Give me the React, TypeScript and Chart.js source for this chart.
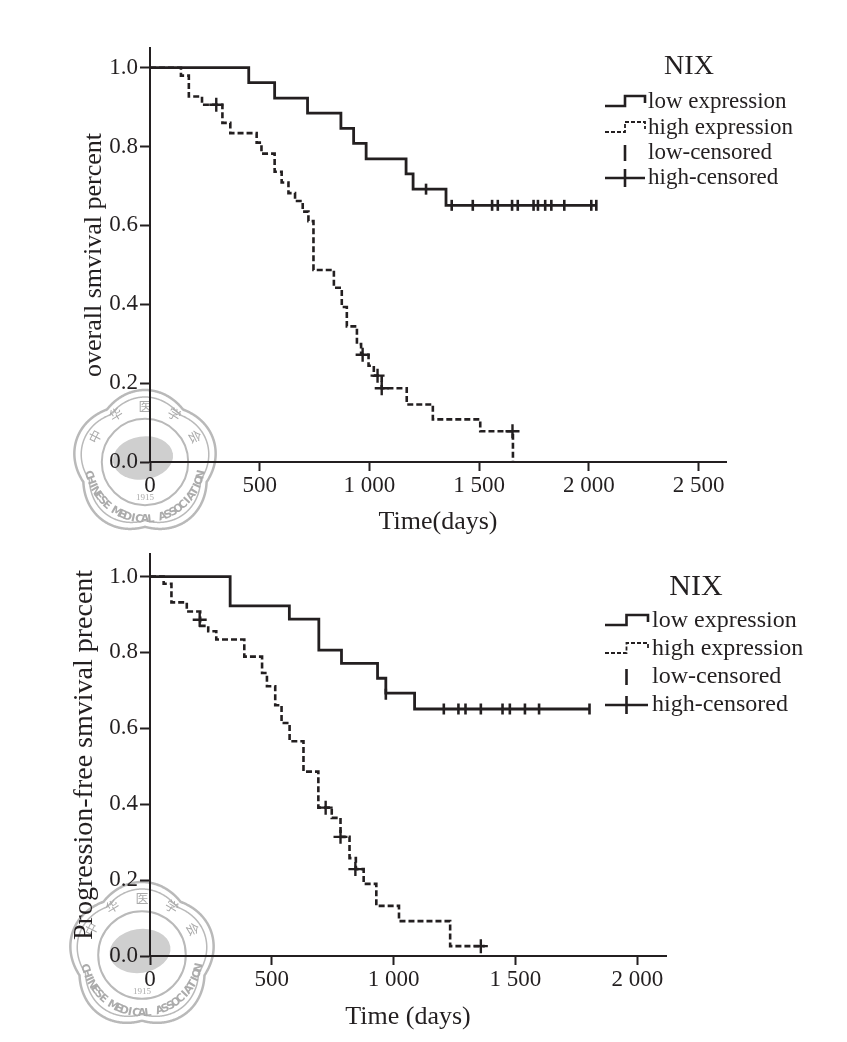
import React, { useEffect, useRef } from 'react';
import { Chart, registerables } from 'chart.js';

Chart.register(...registerables);

const INK = '#231f20';
const FONT = '"Liberation Serif", "Times New Roman", serif';

// ---------- Top panel: overall survival ----------
const osLowTimes = [0, 450, 568, 718, 870, 928, 985, 1167, 1199, 1349, 2034];
const osLowSurv = [1, 0.962, 0.923, 0.885, 0.846, 0.808, 0.769, 0.731, 0.692, 0.651, 0.651];
const osLowCensorTimes = [1258, 1375, 1471, 1559, 1585, 1650, 1676, 1748, 1768, 1801, 1829, 1888, 2011, 2034];
const osLowCensorSurv = [0.692, 0.651, 0.651, 0.651, 0.651, 0.651, 0.651, 0.651, 0.651, 0.651, 0.651, 0.651, 0.651, 0.651];
const osHighTimes = [0, 141, 177, 237, 330, 366, 486, 508, 568, 600, 631, 661, 696, 722, 745, 838, 874, 897, 943, 962, 996, 1020, 1056, 1170, 1289, 1505, 1654];
const osHighSurv = [1, 0.98, 0.927, 0.906, 0.86, 0.834, 0.81, 0.782, 0.736, 0.709, 0.682, 0.662, 0.635, 0.611, 0.487, 0.442, 0.393, 0.344, 0.299, 0.272, 0.244, 0.219, 0.187, 0.146, 0.108, 0.078, 0];
const osHighCensorTimes = [302, 969, 1037, 1056, 1652];
const osHighCensorSurv = [0.906, 0.272, 0.219, 0.187, 0.078];
const osXTicks = [0, 500, 1000, 1500, 2000, 2500];

// ---------- Bottom panel: progression-free survival ----------
const pfsLowTimes = [0, 329, 572, 693, 786, 934, 968, 1086, 1804];
const pfsLowSurv = [1, 0.923, 0.888, 0.806, 0.771, 0.732, 0.693, 0.651, 0.651];
const pfsLowCensorTimes = [968, 1206, 1266, 1295, 1358, 1447, 1477, 1539, 1597, 1804];
const pfsLowCensorSurv = [0.69, 0.651, 0.651, 0.651, 0.651, 0.651, 0.651, 0.651, 0.651, 0.651];
const pfsHighTimes = [0, 56, 88, 151, 206, 239, 272, 387, 460, 480, 514, 540, 573, 630, 691, 746, 782, 819, 845, 877, 929, 1022, 1232, 1374];
const pfsHighSurv = [1, 0.981, 0.932, 0.908, 0.87, 0.856, 0.834, 0.789, 0.746, 0.711, 0.661, 0.614, 0.566, 0.486, 0.391, 0.364, 0.314, 0.258, 0.229, 0.19, 0.132, 0.092, 0.026, 0.026];
const pfsHighCensorTimes = [204, 721, 782, 843, 1358];
const pfsHighCensorSurv = [0.886, 0.391, 0.314, 0.229, 0.026];
const pfsXTicks = [0, 500, 1000, 1500, 2000];

const yTicks = [0, 0.2, 0.4, 0.6, 0.8, 1.0];
const legendTitle = 'NIX';
const legendLabels = ['low expression', 'high expression', 'low-censored', 'high-censored'];
const legendKinds = ['stepSolid', 'stepDashed', 'tick', 'cross'];
const osYTitle = 'overall smvival percent';
const osXTitle = 'Time(days)';
const pfsYTitle = 'Progression-free smvival precent';
const pfsXTitle = 'Time (days)';
const markTop = ['中', '华', '医', '学', '会'];
const markBottom = 'CHINESE MEDICAL ASSOCIATION';
const markYear = '1915';

const pts = (xs: number[], ys: number[]) => xs.map((x, i) => ({ x, y: ys[i] }));
const fmtX = (v: number) =>
  v >= 1000 ? `${Math.floor(v / 1000)} ${String(v % 1000).padStart(3, '0')}` : String(v);

const legendPlugin = {
  id: 'kmLegend',
  afterDraw(chart: any, _a: any, o: any) {
    if (!o || !o.rows) return;
    const ctx = chart.ctx;
    ctx.save();
    ctx.fillStyle = INK;
    ctx.strokeStyle = INK;
    ctx.textBaseline = 'middle';
    ctx.textAlign = 'center';
    ctx.font = `${o.titleSize}px ${FONT}`;
    ctx.fillText(legendTitle, o.titleX, o.titleY);
    ctx.textAlign = 'left';
    ctx.font = `${o.size}px ${FONT}`;
    legendLabels.forEach((label, i) => {
      const y = o.rows[i];
      const x0 = o.symX;
      const w = o.symW;
      const kind = legendKinds[i];
      ctx.setLineDash([]);
      ctx.beginPath();
      if (kind === 'stepSolid' || kind === 'stepDashed') {
        ctx.lineWidth = kind === 'stepSolid' ? 2.6 : 1.8;
        if (kind === 'stepDashed') ctx.setLineDash([4, 2]);
        ctx.moveTo(x0, y + 4);
        ctx.lineTo(x0 + w / 2, y + 4);
        ctx.lineTo(x0 + w / 2, y - 6);
        ctx.lineTo(x0 + w, y - 6);
        ctx.lineTo(x0 + w, y + 1);
      } else if (kind === 'tick') {
        ctx.lineWidth = 2.6;
        ctx.moveTo(x0 + w / 2, y - 8);
        ctx.lineTo(x0 + w / 2, y + 8);
      } else {
        ctx.lineWidth = 2.6;
        ctx.moveTo(x0, y);
        ctx.lineTo(x0 + w, y);
        ctx.moveTo(x0 + w / 2, y - 9);
        ctx.lineTo(x0 + w / 2, y + 9);
      }
      ctx.stroke();
      ctx.fillText(label, o.textX, y);
    });
    ctx.restore();
  },
};

const watermarkPlugin = {
  id: 'watermark',
  beforeDraw(chart: any, _a: any, o: any) {
    if (!o || !o.r) return;
    const ctx = chart.ctx;
    const { cx, cy, r } = o;
    ctx.save();
    ctx.strokeStyle = '#b9b9b9';
    const flower = (rad: number) => {
      ctx.beginPath();
      for (let k = 0; k <= 720; k++) {
        const a = (k / 720) * Math.PI * 2;
        const rr = rad * (0.9 + 0.1 * Math.abs(Math.cos(2.5 * (a + Math.PI / 2))));
        const px = cx + rr * Math.cos(a);
        const py = cy + rr * Math.sin(a);
        if (k === 0) ctx.moveTo(px, py);
        else ctx.lineTo(px, py);
      }
      ctx.closePath();
      ctx.stroke();
    };
    ctx.lineWidth = 2.5;
    flower(r);
    ctx.lineWidth = 1.5;
    flower(r - 7);
    ctx.beginPath();
    ctx.lineWidth = 2;
    ctx.arc(cx, cy, r * 0.6, 0, Math.PI * 2);
    ctx.stroke();
    ctx.fillStyle = '#cfcfcf';
    ctx.beginPath();
    ctx.ellipse(cx - 2, cy - 4, r * 0.42, r * 0.3, -0.15, 0, Math.PI * 2);
    ctx.fill();
    ctx.fillStyle = '#ababab';
    ctx.textAlign = 'center';
    ctx.textBaseline = 'middle';
    ctx.font = `bold 11px "DejaVu Sans", sans-serif`;
    const chars = markBottom.split('');
    const start = Math.PI * 0.93;
    const end = Math.PI * 0.07;
    chars.forEach((ch, i) => {
      const a = start - ((start - end) * i) / (chars.length - 1);
      ctx.save();
      ctx.translate(cx + (r * 0.8) * Math.cos(a), cy + (r * 0.8) * Math.sin(a));
      ctx.rotate(a - Math.PI / 2);
      ctx.fillText(ch, 0, 0);
      ctx.restore();
    });
    ctx.font = `13px "Noto Sans CJK SC", sans-serif`;
    markTop.forEach((ch, i) => {
      const a = -Math.PI * 0.85 + (Math.PI * 0.7 * i) / (markTop.length - 1);
      ctx.save();
      ctx.translate(cx + (r * 0.78) * Math.cos(a), cy + (r * 0.78) * Math.sin(a));
      ctx.rotate(a + Math.PI / 2);
      ctx.fillText(ch, 0, 0);
      ctx.restore();
    });
    ctx.font = `9px ${FONT}`;
    ctx.fillText(markYear, cx, cy + r * 0.5);
    ctx.restore();
  },
};

function buildConfig(p: any): any {
  return {
    type: 'scatter',
    data: {
      datasets: [
        {
          label: legendLabels[0],
          data: pts(p.lowT, p.lowS),
          showLine: true,
          stepped: 'before',
          borderColor: INK,
          borderWidth: 2.8,
          pointRadius: 0,
          fill: false,
        },
        {
          label: legendLabels[1],
          data: pts(p.highT, p.highS),
          showLine: true,
          stepped: 'before',
          borderColor: INK,
          borderWidth: 2.6,
          borderDash: [6, 3],
          pointRadius: 0,
          fill: false,
        },
        {
          label: legendLabels[2],
          data: pts(p.lowCT, p.lowCS),
          showLine: false,
          pointStyle: 'line',
          pointRotation: 90,
          pointRadius: 5.5,
          pointHoverRadius: 5.5,
          pointBorderColor: INK,
          pointBorderWidth: 2.6,
          borderColor: INK,
        },
        {
          label: legendLabels[3],
          data: pts(p.highCT, p.highCS),
          showLine: false,
          pointStyle: 'cross',
          pointRadius: 7,
          pointHoverRadius: 7,
          pointBorderColor: INK,
          pointBorderWidth: 2.4,
          borderColor: INK,
        },
      ],
    },
    options: {
      responsive: false,
      animation: false,
      events: [],
      layout: { padding: p.padding },
      plugins: {
        legend: { display: false },
        tooltip: { enabled: false },
        kmLegend: p.legend,
        watermark: p.mark,
      },
      scales: {
        x: {
          type: 'linear',
          min: 0,
          max: p.xMax,
          afterBuildTicks: (s: any) => {
            s.ticks = p.xTicks.map((v: number) => ({ value: v }));
          },
          afterFit: (s: any) => {
            s.height = p.xHeight;
          },
          ticks: {
            callback: (v: any) => fmtX(Number(v)),
            autoSkip: false,
            maxRotation: 0,
            minRotation: 0,
            padding: 1,
            color: INK,
            font: { family: FONT, size: 23 },
          },
          grid: { display: true, drawOnChartArea: false, drawTicks: true, tickLength: 9, tickWidth: 2, tickColor: INK },
          border: { display: true, color: INK, width: 2 },
          title: {
            display: true,
            text: p.xTitle,
            color: INK,
            font: { family: FONT, size: 26 },
            padding: { top: 0, bottom: 0 },
          },
        },
        y: {
          type: 'linear',
          min: 0,
          max: p.yMax,
          afterBuildTicks: (s: any) => {
            s.ticks = yTicks.map((v) => ({ value: v }));
          },
          afterFit: (s: any) => {
            s.width = p.yWidth;
          },
          ticks: {
            callback: (v: any) => Number(v).toFixed(1),
            padding: 2,
            color: INK,
            font: { family: FONT, size: 23 },
          },
          grid: { display: true, drawOnChartArea: false, drawTicks: true, tickLength: 10, tickWidth: 2, tickColor: INK },
          border: { display: true, color: INK, width: 2 },
          title: {
            display: true,
            text: p.yTitle,
            color: INK,
            font: { family: FONT, size: p.yTitleSize },
            padding: { top: p.yTitlePad, bottom: 0 },
          },
        },
      },
    },
    plugins: [watermarkPlugin, legendPlugin],
  };
}

const topParams = {
  lowT: osLowTimes, lowS: osLowSurv, lowCT: osLowCensorTimes, lowCS: osLowCensorSurv,
  highT: osHighTimes, highS: osHighSurv, highCT: osHighCensorTimes, highCS: osHighCensorSurv,
  xTicks: osXTicks, xMax: 2625, yMax: 1.05,
  xTitle: osXTitle, yTitle: osYTitle, yTitleSize: 26, yTitlePad: 7,
  padding: { left: 72, top: 48, right: 121, bottom: 0 },
  yWidth: 78, xHeight: 76,
  legend: { titleX: 689, titleY: 67, titleSize: 28, size: 23, rows: [102, 128, 153, 178], symX: 605, symW: 40, textX: 648 },
  mark: { cx: 145, cy: 462, r: 72 },
};

const bottomParams = {
  lowT: pfsLowTimes, lowS: pfsLowSurv, lowCT: pfsLowCensorTimes, lowCS: pfsLowCensorSurv,
  highT: pfsHighTimes, highS: pfsHighSurv, highCT: pfsHighCensorTimes, highCS: pfsHighCensorSurv,
  xTicks: pfsXTicks, xMax: 2118, yMax: 1.06,
  xTitle: pfsXTitle, yTitle: pfsYTitle, yTitleSize: 28, yTitlePad: 1,
  padding: { left: 67, top: 15, right: 181, bottom: 9 },
  yWidth: 83, xHeight: 77,
  legend: { titleX: 696, titleY: 49, titleSize: 30, size: 24, rows: [83, 111, 139, 167], symX: 605, symW: 43, textX: 652 },
  mark: { cx: 142, cy: 417, r: 73 },
};

function KMChart({ params, width, height, top }: { params: any; width: number; height: number; top: number }) {
  const ref = useRef<HTMLCanvasElement | null>(null);
  useEffect(() => {
    if (!ref.current) return;
    const chart = new Chart(ref.current, buildConfig(params));
    return () => chart.destroy();
  }, [params]);
  return (
    <canvas
      ref={ref}
      width={width}
      height={height}
      style={{ position: 'absolute', left: 0, top, width, height, display: 'block' }}
    />
  );
}

export default function App() {
  return (
    <div style={{ position: 'fixed', left: 0, top: 0, width: 847, height: 1042, background: '#fff' }}>
      <KMChart params={topParams} width={847} height={538} top={0} />
      <KMChart params={bottomParams} width={847} height={504} top={538} />
    </div>
  );
}
